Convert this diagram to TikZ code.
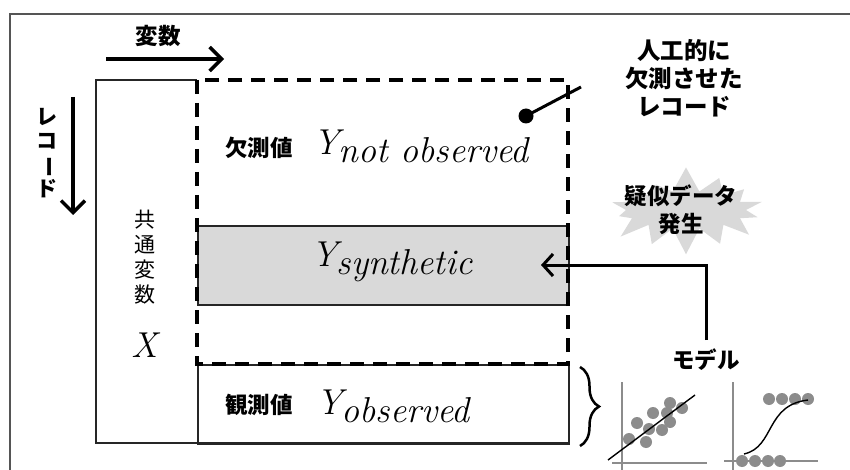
\documentclass[tikz,border=0pt]{standalone}
\usepackage{fontspec}
\newfontfamily\jp{Noto Sans CJK JP}
\usetikzlibrary{arrows.meta,decorations.pathreplacing,shapes.symbols}
\definecolor{lightfill}{HTML}{D9D9D9}
\definecolor{dotgray}{HTML}{8C8C8C}
\definecolor{framegray}{HTML}{555555}
\tikzset{
  jptext/.style={font=\jp\bfseries\fontsize{22.5}{28}\selectfont, inner sep=0pt, align=center},
  jpreg/.style={font=\jp\fontsize{21}{25}\selectfont, inner sep=0pt, align=center},
  mathlbl/.style={font=\itshape\fontsize{36}{36}\selectfont, inner sep=0pt},
  bigarrow/.style={line width=3.5pt, -{Straight Barb[length=12pt,width=24pt,line width=3.5pt]}},
  thinbox/.style={line width=1.5pt, draw=black!85},
  dashbox/.style={line width=3.5pt, dash pattern=on 14pt off 9pt},
  dot/.style={circle, fill=dotgray, minimum size=12pt, inner sep=0pt},
  axis/.style={line width=1.3pt, draw=black!45},
}
\newcommand{\ylbl}[1]{Y\kern-1pt\raisebox{-8pt}{#1}}
\begin{document}
\begin{tikzpicture}[x=1pt,y=-1pt]
\useasboundingbox (0,0) rectangle (850,470);
% outer frame
\draw[line width=1.8pt, framegray] (10,470) -- (10,14) -- (850,14);
% header arrows
\node[jptext] (varlbl) at (158,36) {変数};
\coordinate (va) at (106,59);
\coordinate (vb) at (224,59);
\draw[bigarrow] (va) -- (vb);
\node[jptext, align=center, font=\jp\bfseries\fontsize{21}{24}\selectfont] (reclbl) at (47,153) {レ\\コ\\\rotatebox[origin=c]{-90}{ー}\\ド};
\coordinate (ra) at (73,97);
\coordinate (rb) at (73,215);
\draw[bigarrow] (ra) -- (rb);
% left common-variable box
\draw[thinbox] (197,80) -- (96,80) -- (96,443) -- (568,443);
\node[jpreg] (common) at (145,257) {共\\通\\変\\数};
\node[mathlbl] (xlbl) at (145,345) {X};
% synthetic box
\node[thinbox, fill=lightfill, minimum width=371pt, minimum height=79pt, anchor=north west, inner sep=0pt] (syn) at (197,225) {};
\node[mathlbl] (synlbl) at (392,262) {\ylbl{synthetic}};
% observed box
\node[thinbox, minimum width=371pt, minimum height=79pt, anchor=north west, inner sep=0pt] (obs) at (197,364) {};
\node[jptext] (obsjp) at (259,405) {観測値};
\node[mathlbl] (obslbl) at (393,406) {\ylbl{observed}};
% dashed missing box
\draw[dashbox] (197,80) rectangle (568,364);
\node[jptext] (misjp) at (259,148) {欠測値};
\node[mathlbl] (mislbl) at (421,146) {\ylbl{not observed}};
% callout
\node[circle, fill=black, minimum size=15pt, inner sep=0pt] (cdot) at (526,116) {};
\coordinate (cend) at (581,87);
\draw[line width=3pt] (cdot.center) -- (cend);
\node[jptext, align=center, font=\jp\bfseries\fontsize{23.5}{28}\selectfont] (callout) at (684,78) {人工的に\\欠測させた\\レコード};
% starburst
\node[starburst, fill=lightfill, draw=none, minimum width=172pt, minimum height=90pt, starburst points=14, starburst point height=26pt, random starburst=7] (burst) at (686,210) {};
\node[jptext] (burstlbl) at (681,210) {疑似データ\\発生};
% model arrow
\node[jptext] (model) at (706,360) {モデル};
\coordinate (mtop) at (706,340);
\coordinate (mcorner) at (706,265);
\coordinate (mtip) at (541,265);
\draw[line width=3pt, -{Straight Barb[length=10pt,width=22pt,line width=3pt]}] (mtop) -- (mcorner) -- (mtip);
% brace
\coordinate (ba) at (580,367);
\coordinate (bb) at (580,446);
\draw[line width=2.5pt, decorate, decoration={brace, amplitude=19pt}] (ba) -- (bb);
% plot 1
\coordinate (p1a) at (622,382);
\coordinate (p1b) at (622,470);
\coordinate (p1c) at (612,463);
\coordinate (p1d) at (707,463);
\draw[axis] (p1a) -- (p1b);
\draw[axis] (p1c) -- (p1d);
\foreach \px/\py in {670/403,653/413,667/413,682/408,637/423,670/422,649/429,662/430,629/439,646/442}
  \node[dot] at (\px,\py) {};
\coordinate (r1) at (608,460);
\coordinate (r2) at (695,395);
\draw[line width=1.4pt] (r1) -- (r2);
% plot 2
\coordinate (p2a) at (733,382);
\coordinate (p2b) at (733,470);
\coordinate (p2c) at (724,461);
\coordinate (p2d) at (818,461);
\draw[axis] (p2a) -- (p2b);
\draw[axis] (p2c) -- (p2d);
\foreach \px in {769,782,795,808} \node[dot] at (\px,399) {};
\foreach \px in {742,755,768,780} \node[dot] at (\px,461) {};
\coordinate (s1) at (744,454);
\coordinate (s2) at (808,400);
\draw[line width=1.4pt] (s1) .. controls (775,447) and (765,405) .. (s2);
\end{tikzpicture}
\end{document}
